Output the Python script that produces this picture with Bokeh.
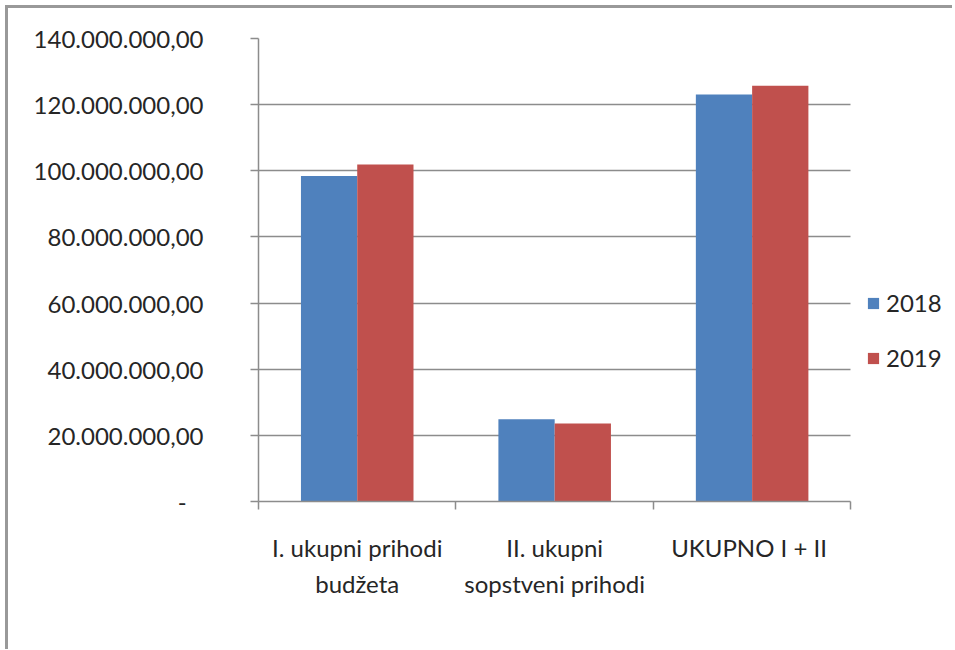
from bokeh.plotting import figure
from bokeh.models import ColumnDataSource, FixedTicker, Legend, LegendItem
from bokeh.transform import dodge
from bokeh.embed import file_html
from bokeh.resources import INLINE

categories = ["I. ukupni prihodi\nbudžeta", "II. ukupni\nsopstveni prihodi", "UKUPNO  I + II"]
series_names = ["2018", "2019"]
values_2018 = [98_400_000, 24_900_000, 123_100_000]
values_2019 = [101_900_000, 23_600_000, 125_700_000]
y_ticks = [0, 20_000_000, 40_000_000, 60_000_000, 80_000_000, 100_000_000, 120_000_000, 140_000_000]

FONT = "Lato"
TEXT = "#262626"
GRID = "#8c8c8c"
BLUE = "#4F81BD"
RED = "#C0504D"

n = len(categories)
xs = [i + 0.5 for i in range(n)]
src = ColumnDataSource(dict(x=xs, y2018=values_2018, y2019=values_2019))

def fmt(v):
    if v == 0:
        return "-\u2007\u2009"
    s = f"{v:,.2f}"
    return s.replace(",", "X").replace(".", ",").replace("X", ".")

# frame extends right to hold the legend; axis and grid are bounded to the categories
p = figure(width=947, height=644, output_backend="svg", toolbar_location=None,
           x_range=(0, n + 0.53), y_range=(0, y_ticks[-1]),
           min_border_left=250, min_border_right=0, min_border_top=30, min_border_bottom=151)
p.styles = {"border-top": "3px solid #999999", "border-left": "3px solid #999999",
            "border-right": "none", "border-bottom": "none",
            "margin-left": "5px", "margin-top": "5px"}
p.outline_line_color = None
p.background_fill_color = "white"
p.border_fill_color = "white"

bw = 0.285
r1 = p.vbar(x=dodge("x", -bw / 2), top="y2018", width=bw, source=src, fill_color=BLUE, line_color=None)
r2 = p.vbar(x=dodge("x", bw / 2), top="y2019", width=bw, source=src, fill_color=RED, line_color=None)

# y axis
p.yaxis.ticker = FixedTicker(ticks=y_ticks)
p.yaxis.major_label_overrides = {t: fmt(t) for t in y_ticks}
p.yaxis.axis_line_color = GRID
p.yaxis.axis_line_width = 1.5
p.yaxis.major_tick_line_color = GRID
p.yaxis.major_tick_line_width = 1.5
p.yaxis.major_tick_out = 8
p.yaxis.major_tick_in = 0
p.yaxis.minor_tick_line_color = None
p.yaxis.major_label_standoff = 47
p.yaxis.major_label_text_font = FONT
p.yaxis.major_label_text_font_size = "24px"
p.yaxis.major_label_text_color = TEXT

# x axis
p.xaxis.bounds = (0, n)
p.xaxis.ticker = FixedTicker(ticks=xs, minor_ticks=list(range(n + 1)))
p.xaxis.major_label_overrides = {x: c for x, c in zip(xs, categories)}
p.xaxis.axis_line_color = GRID
p.xaxis.axis_line_width = 1.5
p.xaxis.major_tick_line_color = None
p.xaxis.minor_tick_line_color = GRID
p.xaxis.minor_tick_line_width = 1.5
p.xaxis.minor_tick_out = 8
p.xaxis.minor_tick_in = 0
p.xaxis.major_label_standoff = 23
p.xaxis.major_label_text_font = FONT
p.xaxis.major_label_text_font_size = "24px"
p.xaxis.major_label_text_color = TEXT
p.xaxis.major_label_text_line_height = 1.25

p.xgrid.grid_line_color = None
p.ygrid.grid_line_color = GRID
p.ygrid.grid_line_width = 1.5
p.ygrid.ticker = FixedTicker(ticks=y_ticks)
p.ygrid.cross_bounds = (0, n)

legend = Legend(items=[LegendItem(label=series_names[0], renderers=[r1]),
                       LegendItem(label=series_names[1], renderers=[r2])],
                location=(608, 129), orientation="vertical",
                glyph_width=14, glyph_height=14, label_standoff=6, spacing=26,
                label_text_font=FONT, label_text_font_size="24px", label_text_color=TEXT,
                border_line_color=None, background_fill_alpha=0, padding=0, margin=0)
p.add_layout(legend)

open("out.html", "w").write(file_html(p, INLINE))
